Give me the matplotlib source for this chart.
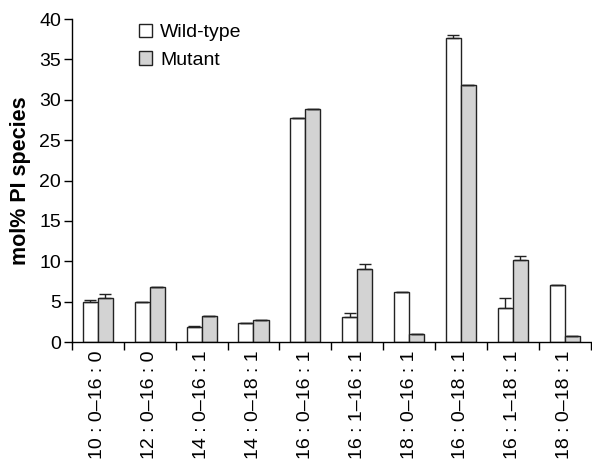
import matplotlib
matplotlib.use('Agg')
import matplotlib.pyplot as plt
import numpy as np

plt.rcParams['font.family'] = ['Liberation Sans', 'DejaVu Sans']

etykiety = ['10 : 0–16 : 0', '12 : 0–16 : 0', '14 : 0–16 : 1', '14 : 0–18 : 1', '16 : 0–16 : 1',
            '16 : 1–16 : 1', '18 : 0–16 : 1', '16 : 0–18 : 1', '16 : 1–18 : 1', '18 : 0–18 : 1']
wildtype = [4.9, 4.9, 1.8, 2.3, 27.7, 3.1, 6.2, 37.7, 4.2, 7.0]
wildtype_err = [0.3, 0.0, 0.15, 0.0, 0.0, 0.5, 0.0, 0.35, 1.3, 0.0]
mutant = [5.5, 6.8, 3.25, 2.75, 28.85, 9.1, 0.95, 31.85, 10.1, 0.8]
mutant_err = [0.4, 0.0, 0.0, 0.0, 0.0, 0.5, 0.0, 0.0, 0.55, 0.0]

fig = plt.figure(figsize=(5.92, 4.59), dpi=100)
ax = fig.add_axes([0.1216, 0.2549, 0.876, 0.7037])

x = np.arange(len(etykiety))
w = 0.29
ax.bar(x - w / 2, wildtype, w, color='white', edgecolor='#222222', linewidth=1,
       yerr=[np.zeros(len(x)), wildtype_err], error_kw=dict(ecolor='#222222', elinewidth=1, capsize=4, capthick=1),
       label='Wild-type')
ax.bar(x + w / 2, mutant, w, color='#d3d3d3', edgecolor='#222222', linewidth=1,
       yerr=[np.zeros(len(x)), mutant_err], error_kw=dict(ecolor='#222222', elinewidth=1, capsize=4, capthick=1),
       label='Mutant')

ax.set_xlim(-0.5, len(x) - 0.5)
ax.set_ylim(0, 40)
ax.set_yticks(range(0, 41, 5))
ax.set_xticks(x)
ax.set_xticklabels(etykiety, rotation=90, fontsize=14, va='top')
ax.set_xticks(np.arange(-0.5, len(x), 1), minor=True)
ax.tick_params(axis='x', which='major', length=0, pad=6)
ax.tick_params(axis='x', which='minor', length=6, direction='out', width=1)
ax.tick_params(axis='y', labelsize=14, length=6, width=1, pad=2)

for s in ['top', 'right']:
    ax.spines[s].set_visible(False)
ax.spines['left'].set_linewidth(1)
ax.spines['bottom'].set_linewidth(1)

ax.set_ylabel('mol% PI species', fontsize=15.5, fontweight='bold', labelpad=6)

ax.legend(loc='upper left', bbox_to_anchor=(0.095, 1.04), frameon=False, fontsize=14,
          handlelength=0.7, handleheight=0.7, handletextpad=0.4, labelspacing=0.5)

plt.savefig('out.png', dpi=100)
